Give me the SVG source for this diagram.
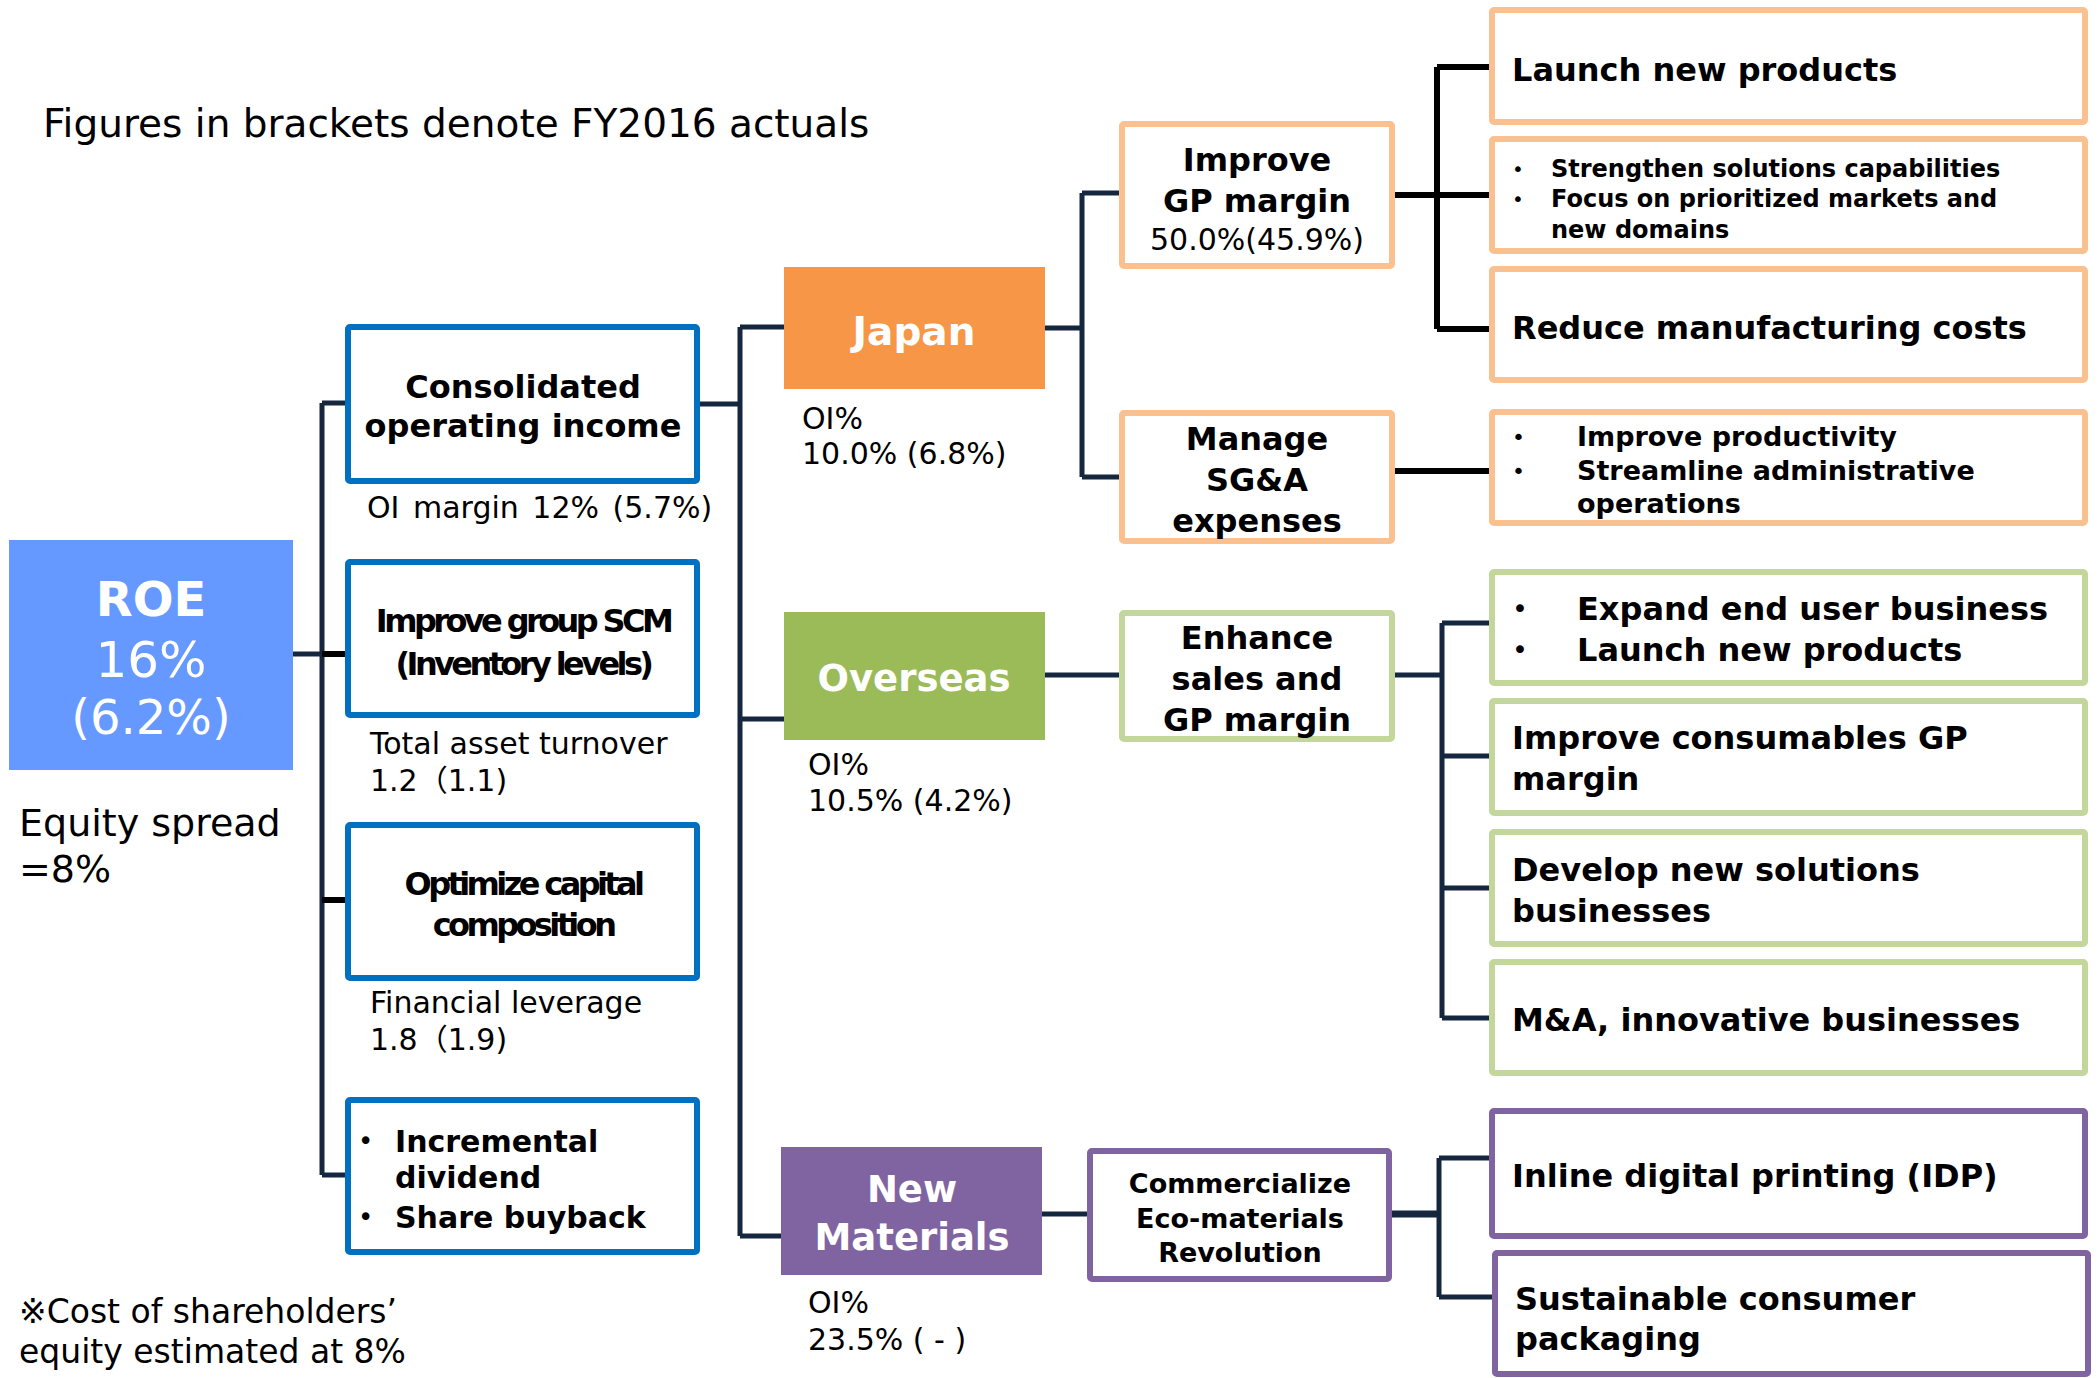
<svg xmlns="http://www.w3.org/2000/svg" width="2100" height="1378" viewBox="0 0 2100 1378">
<style>
text{font-family:"DejaVu Sans","Noto Sans CJK JP",sans-serif;fill:#000}
.b{font-weight:bold}
.c{text-anchor:middle}
.w{fill:#fff}
.r29{font-size:30px}
.r30{font-size:30px}
.b32{font-size:32px;font-weight:bold}
.b27{font-size:27px;font-weight:bold}
.b24{font-size:24px;font-weight:bold}
.bu{font-weight:normal}
.bb{fill:#fff;stroke:#0070C0;stroke-width:6}
.bo{fill:#fff;stroke:#FAC090;stroke-width:6}
.bg{fill:#fff;stroke:#C3D69B;stroke-width:6}
.bp{fill:#fff;stroke:#8064A2;stroke-width:6}
.cn{fill:none;stroke:#14273F;stroke-width:5}
.ck{fill:none;stroke:#000;stroke-width:6}
.cond{letter-spacing:-3.6px}
</style>
<rect width="2100" height="1378" fill="#fff"/>

<g id="connectors">
<path class="cn" d="M293 654H322M322 403V1175M322 403H348M322 1175H348"/>
<path class="ck" d="M322 654H348M322 900H348"/>
<path class="cn" d="M697 404H740M740 327V1236M740 327H784M740 719H784M740 1236H781"/>
<path class="cn" d="M1045 328H1082M1082 193V477M1082 193H1122M1082 477H1122"/>
<path class="ck" d="M1392 195H1492M1437 67V329M1437 67H1492M1437 329H1492M1392 471H1492"/>
<path class="cn" d="M1045 675H1122M1392 675H1442M1442 623V1018M1442 623H1492M1442 756H1492M1442 888H1492M1442 1018H1492"/>
<path class="cn" d="M1042 1214H1090"/>
<path class="cn" d="M1389 1214H1439" style="stroke-width:7"/>
<path class="cn" d="M1439 1158V1297M1439 1158H1492M1439 1297H1495"/>
</g>

<text x="43" y="137" style="font-size:39px">Figures in brackets denote FY2016 actuals</text>

<g id="roe">
<rect x="9" y="540" width="284" height="230" fill="#6699FF"/>
<text class="w c b" x="151" y="616" style="font-size:48px">ROE</text>
<text class="w c" x="151" y="677" style="font-size:50px">16%</text>
<text class="w c" x="151" y="734" style="font-size:48px">(6.2%)</text>
</g>
<text x="19" y="836" style="font-size:38px">Equity spread</text>
<text x="19" y="882" style="font-size:38px">=8%</text>
<text x="19" y="1323" style="font-size:33px">※Cost of shareholders’</text>
<text x="19" y="1363" style="font-size:33px">equity estimated at 8%</text>

<g id="consolidated">
<rect class="bb" x="348" y="327" width="349" height="154" rx="2"/>
<text class="b32 c" x="523" y="398">Consolidated</text>
<text class="b32 c" x="523" y="437">operating income</text>
<text class="r29" x="367" y="518" style="word-spacing:4px">OI margin 12% (5.7%)</text>
</g>
<g id="scm">
<rect class="bb" x="348" y="562" width="349" height="153" rx="2"/>
<text class="b32 c cond" x="523" y="632">Improve group SCM</text>
<text class="b32 c cond" x="523" y="675">(Inventory levels)</text>
<text class="r29" x="370" y="754">Total asset turnover</text>
<text class="r29" x="370" y="791">1.2（1.1)</text>
</g>
<g id="optimize">
<rect class="bb" x="348" y="825" width="349" height="153" rx="2"/>
<text class="b32 c cond" x="523" y="895">Optimize capital</text>
<text class="b32 c cond" x="523" y="936">composition</text>
<text class="r29" x="370" y="1013">Financial leverage</text>
<text class="r29" x="370" y="1050">1.8（1.9)</text>
</g>
<g id="dividend">
<rect class="bb" x="348" y="1100" width="349" height="152" rx="2"/>
<text x="358" y="1150" style="font-size:26px">•</text>
<text class="b" x="395" y="1152" style="font-size:30px">Incremental</text>
<text class="b" x="395" y="1188" style="font-size:30px">dividend</text>
<text x="358" y="1226" style="font-size:26px">•</text>
<text class="b" x="395" y="1228" style="font-size:30px">Share buyback</text>
</g>

<g id="japan">
<rect x="784" y="267" width="261" height="122" fill="#F79646"/>
<text class="w c b" x="914" y="345" style="font-size:39px">Japan</text>
<text class="r30" x="802" y="429">OI%</text>
<text class="r30" x="802" y="464">10.0% (6.8%)</text>
</g>
<g id="overseas">
<rect x="784" y="612" width="261" height="128" fill="#9BBB59"/>
<text class="w c b" x="914" y="691" style="font-size:37px">Overseas</text>
<text class="r30" x="808" y="775">OI%</text>
<text class="r30" x="808" y="811">10.5% (4.2%)</text>
</g>
<g id="newmaterials">
<rect x="781" y="1147" width="261" height="128" fill="#8064A2"/>
<text class="w c b" x="912" y="1202" style="font-size:37px">New</text>
<text class="w c b" x="912" y="1250" style="font-size:37px">Materials</text>
<text class="r30" x="808" y="1313">OI%</text>
<text class="r30" x="808" y="1350">23.5% ( - )</text>
</g>

<g id="gpmargin">
<rect class="bo" x="1122" y="124" width="270" height="142" rx="2"/>
<text class="b32 c" x="1257" y="171">Improve</text>
<text class="b32 c" x="1257" y="212">GP margin</text>
<text class="r30 c" x="1257" y="250">50.0%(45.9%)</text>
</g>
<g id="sga">
<rect class="bo" x="1122" y="413" width="270" height="128" rx="2"/>
<text class="b32 c" x="1257" y="450">Manage</text>
<text class="b32 c" x="1257" y="491">SG&amp;A</text>
<text class="b32 c" x="1257" y="532">expenses</text>
</g>
<g id="enhance">
<rect class="bg" x="1122" y="613" width="270" height="126" rx="2"/>
<text class="b32 c" x="1257" y="649">Enhance</text>
<text class="b32 c" x="1257" y="690">sales and</text>
<text class="b32 c" x="1257" y="731">GP margin</text>
</g>
<g id="commercialize">
<rect class="bp" x="1090" y="1151" width="299" height="128" rx="2"/>
<text class="b27 c" x="1240" y="1193">Commercialize</text>
<text class="b27 c" x="1240" y="1228">Eco-materials</text>
<text class="b27 c" x="1240" y="1262">Revolution</text>
</g>

<g id="launch">
<rect class="bo" x="1492" y="10" width="593" height="112" rx="2"/>
<text class="b32" x="1512" y="81">Launch new products</text>
</g>
<g id="strengthen">
<rect class="bo" x="1492" y="139" width="593" height="112" rx="2"/>
<text x="1512" y="176" style="font-size:20px">•</text>
<text class="b24" x="1551" y="177">Strengthen solutions capabilities</text>
<text x="1512" y="206" style="font-size:20px">•</text>
<text class="b24" x="1551" y="207">Focus on prioritized markets and</text>
<text class="b24" x="1551" y="238">new domains</text>
</g>
<g id="reduce">
<rect class="bo" x="1492" y="269" width="593" height="111" rx="2"/>
<text class="b32" x="1512" y="339">Reduce manufacturing costs</text>
</g>
<g id="productivity">
<rect class="bo" x="1492" y="412" width="593" height="111" rx="2"/>
<text x="1512" y="445" style="font-size:22px">•</text>
<text class="b27" x="1577" y="446">Improve productivity</text>
<text x="1512" y="479" style="font-size:22px">•</text>
<text class="b27" x="1577" y="480">Streamline administrative</text>
<text class="b27" x="1577" y="513">operations</text>
</g>
<g id="expand">
<rect class="bg" x="1492" y="572" width="593" height="111" rx="2"/>
<text x="1512" y="618" style="font-size:27px">•</text>
<text class="b32" x="1577" y="620">Expand end user business</text>
<text x="1512" y="659" style="font-size:27px">•</text>
<text class="b32" x="1577" y="661">Launch new products</text>
</g>
<g id="consumables">
<rect class="bg" x="1492" y="701" width="593" height="112" rx="2"/>
<text class="b32" x="1512" y="749">Improve consumables GP</text>
<text class="b32" x="1512" y="790">margin</text>
</g>
<g id="develop">
<rect class="bg" x="1492" y="832" width="593" height="112" rx="2"/>
<text class="b32" x="1512" y="881">Develop new solutions</text>
<text class="b32" x="1512" y="922">businesses</text>
</g>
<g id="mna">
<rect class="bg" x="1492" y="962" width="593" height="111" rx="2"/>
<text class="b32" x="1512" y="1031">M&amp;A, innovative businesses</text>
</g>
<g id="idp">
<rect class="bp" x="1492" y="1111" width="593" height="125" rx="2"/>
<text class="b32" x="1512" y="1187">Inline digital printing (IDP)</text>
</g>
<g id="packaging">
<rect class="bp" x="1495" y="1253" width="593" height="121" rx="2"/>
<text class="b32" x="1515" y="1310">Sustainable consumer</text>
<text class="b32" x="1515" y="1350">packaging</text>
</g>
</svg>
